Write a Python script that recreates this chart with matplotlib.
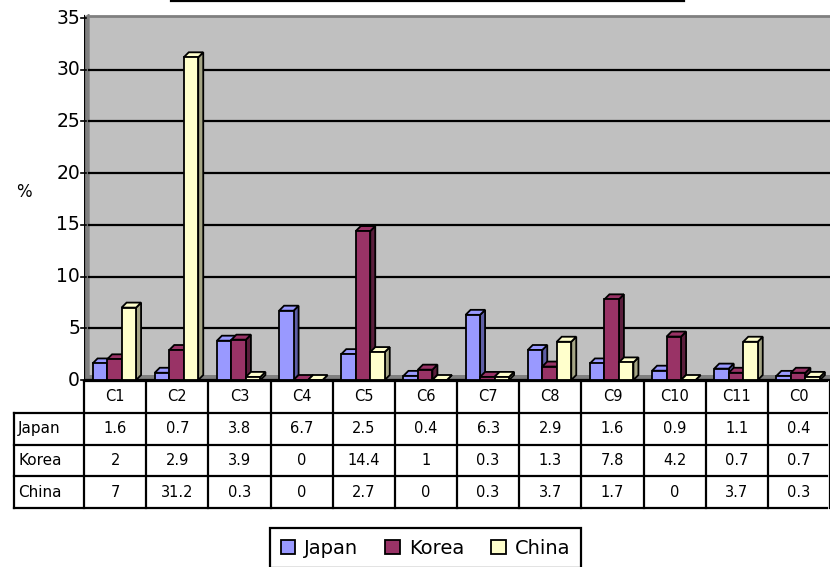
import numpy as np
import matplotlib.pyplot as plt
from matplotlib.patches import Polygon, Rectangle, Patch
from matplotlib.lines import Line2D

categories = ["C1", "C2", "C3", "C4", "C5", "C6", "C7", "C8", "C9", "C10", "C11", "C0"]
series = ["Japan", "Korea", "China"]
japan = [1.6, 0.7, 3.8, 6.7, 2.5, 0.4, 6.3, 2.9, 1.6, 0.9, 1.1, 0.4]
korea = [2, 2.9, 3.9, 0, 14.4, 1, 0.3, 1.3, 7.8, 4.2, 0.7, 0.7]
china = [7, 31.2, 0.3, 0, 2.7, 0, 0.3, 3.7, 1.7, 0, 3.7, 0.3]
yticks = [0, 5, 10, 15, 20, 25, 30, 35]

face_colors = ["#9999FF", "#993366", "#FFFFCC"]
side_colors = ["#5E5EA6", "#5A1E3C", "#A5A585"]

W, H = 830, 567
fig = plt.figure(figsize=(W / 100, H / 100), dpi=100)

def px_box(x0, y0, x1, y1):
    # pixel box (top-left origin) -> figure fraction rect
    return [x0 / W, 1 - y1 / H, (x1 - x0) / W, (y1 - y0) / H]

# main 3d-like bar area
ax = fig.add_axes(px_box(84, 14, 830, 382))
ppu = (380 - 18) / 35.0          # pixels per data unit
ax.set_xlim(-0.5, 11.5)
ax.set_ylim(-2 / ppu, 366 / ppu)
ax.axis("off")

cw = 746 / 12.0                  # pixels per category
dx = 5 / cw
dy = 5 / ppu
bw = 14.5 / cw
g0 = -22.5 / cw
top = 35.2

# back wall, left wall, floor
ax.add_patch(Rectangle((-0.5 + dx, 0), 12, top, facecolor="#C0C0C0", edgecolor="none", zorder=0))
ax.add_patch(Polygon([(-0.5, 0), (-0.5 + dx, dy), (-0.5 + dx, top + dy * 0.3), (-0.5, top - dy * 0.4)],
                     closed=True, facecolor="#808080", edgecolor="#808080", lw=1, zorder=1))
ax.add_patch(Polygon([(-0.5, 0), (11.6, 0), (11.6 + dx, dy), (-0.5 + dx, dy)],
                     closed=True, facecolor="#808080", edgecolor="none", zorder=1))
ax.plot([-0.5 + dx, 11.6], [top, top], color="#808080", lw=2, zorder=1)
for t in yticks[1:-1]:
    ax.plot([-0.5 + dx, 11.6], [t, t], color="black", lw=1.6, zorder=1)
ax.plot([-0.5, -0.5], [0, top], color="black", lw=1.6, zorder=2)
ax.plot([-0.5, 11.6], [0, 0], color="black", lw=1.6, zorder=2)
for t in yticks:
    ax.plot([-0.5 - 3 / cw, -0.5 + 2 / cw], [t, t], color="black", lw=1.2, zorder=2, clip_on=False)
    ax.text(-0.5 - 4 / cw, t, str(t), ha="right", va="center", fontsize=13.5, clip_on=False)

ax.text(-0.5 - 68 / cw, 18.2, "%", ha="left", va="center", fontsize=12)

# bars
values = [japan, korea, china]
z = 3
for i in range(len(categories)):
    for s, vals in enumerate(values):
        v = vals[i]
        x = i + g0 + s * bw
        ax.add_patch(Polygon([(x + bw, 0), (x + bw + dx, dy), (x + bw + dx, v + dy), (x + bw, v)],
                             closed=True, facecolor=side_colors[s], edgecolor="black", lw=1.3, zorder=z))
        ax.add_patch(Polygon([(x, v), (x + bw, v), (x + bw + dx, v + dy), (x + dx, v + dy)],
                             closed=True, facecolor=face_colors[s], edgecolor="black", lw=1.3, zorder=z))
        ax.bar(x, v, width=bw, align="edge", color=face_colors[s], edgecolor="black", lw=1.3, zorder=z)
        z += 1

# data table below
tab = fig.add_axes(px_box(14, 381, 830, 508))
tab.set_xlim(-0.5 - 70 / cw, 11.5)
tab.set_ylim(4, 0)
tab.axis("off")
lx = -0.5 - 70 / cw
kw = dict(color="black", lw=1.6, clip_on=False, solid_capstyle="projecting")
tab.plot([-0.5, 11.45], [0, 0], **kw)
for r in range(1, 5):
    tab.plot([lx, 11.45], [r, r], **kw)
tab.plot([lx, lx], [1, 4], **kw)
for c in range(13):
    tab.plot([c - 0.5, c - 0.5], [0, 4], **kw)
for c, name in enumerate(categories):
    tab.text(c, 0.5, name, ha="center", va="center", fontsize=10.5)
for r, (name, vals) in enumerate(zip(series, values)):
    tab.text(lx + 4 / cw, r + 1.5, name, ha="left", va="center", fontsize=11)
    for c, v in enumerate(vals):
        tab.text(c, r + 1.5, f"{v:g}", ha="center", va="center", fontsize=10.5)

# legend
handles = [Patch(facecolor=face_colors[s], edgecolor="black", lw=1.3, label=series[s]) for s in range(3)]
leg = fig.legend(handles=handles, loc="upper left", bbox_to_anchor=(270 / W, 1 - 528 / H),
                 ncol=3, fontsize=14, frameon=True, fancybox=False, framealpha=1,
                 handlelength=0.75, handleheight=0.75, handletextpad=0.45, columnspacing=1.4,
                 borderpad=0.55, borderaxespad=0)
leg.get_frame().set_edgecolor("black")
leg.get_frame().set_linewidth(1.6)

# clipped title underline at the very top
fig.add_artist(Line2D([171 / W, 684 / W], [1 - 0.8 / H, 1 - 0.8 / H], color="black", lw=1.6))

fig.savefig("out.png", dpi=100)
